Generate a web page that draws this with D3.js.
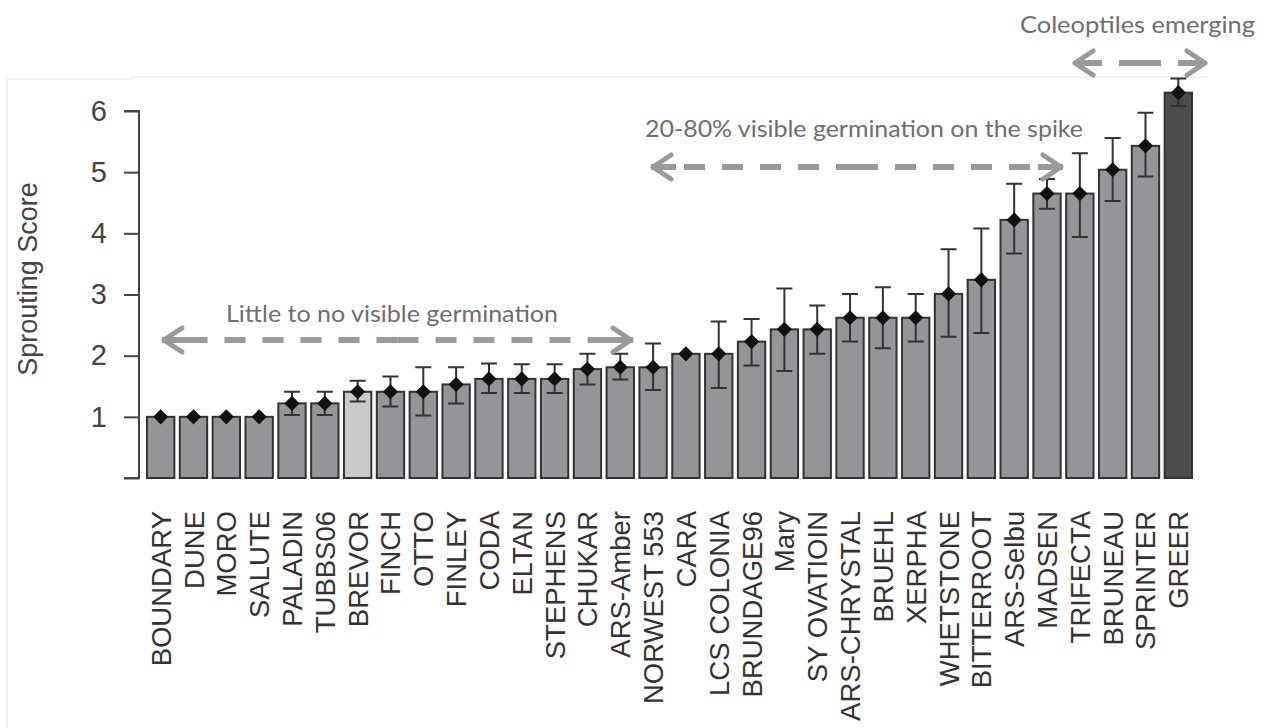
<!DOCTYPE html>
<html>
<head>
<meta charset="utf-8">
<script src="https://cdn.jsdelivr.net/npm/d3@7.9.0/dist/d3.min.js"></script>
<style>
  html, body { margin: 0; padding: 0; background: #fff; }
  svg { display: block; }
</style>
</head>
<body>
<svg id="chart" width="1264" height="728"></svg>
<script>
// cultivars, sorted by mean sprouting score
const cultivars = ['BOUNDARY', 'DUNE', 'MORO', 'SALUTE', 'PALADIN', 'TUBBS06', 'BREVOR', 'FINCH',
  'OTTO', 'FINLEY', 'CODA', 'ELTAN', 'STEPHENS', 'CHUKAR', 'ARS-Amber', 'NORWEST 553', 'CARA',
  'LCS COLONIA', 'BRUNDAGE96', 'Mary', 'SY OVATIOIN', 'ARS-CHRYSTAL', 'BRUEHL', 'XERPHA',
  'WHETSTONE', 'BITTERROOT', 'ARS-Selbu', 'MADSEN', 'TRIFECTA', 'BRUNEAU', 'SPRINTER', 'GREER'];

const meanScore = [1.0, 1.0, 1.0, 1.0, 1.22, 1.22, 1.41, 1.41, 1.41, 1.53, 1.62, 1.62, 1.62, 1.78,
  1.81, 1.81, 2.03, 2.03, 2.23, 2.43, 2.43, 2.62, 2.62, 2.62, 3.01, 3.24, 4.22, 4.65, 4.65, 5.04, 5.43, 6.30];
const upperScore = [1.0, 1.0, 1.0, 1.0, 1.41, 1.41, 1.59, 1.66, 1.81, 1.81, 1.87, 1.86, 1.86, 2.03,
  2.03, 2.20, 2.03, 2.56, 2.60, 3.10, 2.82, 3.01, 3.12, 3.01, 3.74, 4.08, 4.81, 4.89, 5.31, 5.56, 5.97, 6.53];
const lowerScore = [1.0, 1.0, 1.0, 1.0, 1.03, 1.03, 1.25, 1.17, 1.02, 1.22, 1.39, 1.39, 1.39, 1.53,
  1.61, 1.44, 2.03, 1.47, 1.84, 1.75, 2.03, 2.23, 2.12, 2.23, 2.31, 2.37, 3.67, 4.40, 3.94, 4.53, 4.93, 6.08];

const yTicks = [0, 1, 2, 3, 4, 5, 6];

const noteText = ['Little to no visible germination', '20-80% visible germination on the spike', 'Coleoptiles emerging'];

const barFill = name => name === 'BREVOR' ? '#c9cacc' : name === 'GREER' ? '#4b4c4e' : '#939598';

const svg = d3.select('#chart');

const x = d3.scaleBand()
  .domain(cultivars)
  .range([147, 1192])
  .paddingInner(1 / 6)
  .paddingOuter(0);

const y = d3.scaleLinear().domain([0, 6]).range([478, 111]);

// faint frame of the original figure
svg.append('path')
  .attr('d', 'M7,728V79H132V77H1207')
  .attr('fill', 'none')
  .attr('stroke', '#e4e4e4')
  .attr('stroke-width', 1);

// y axis
const yAxis = svg.append('g')
  .attr('transform', 'translate(139,0)')
  .call(d3.axisLeft(y).tickValues(yTicks).tickSize(15).tickPadding(17)
    .tickFormat(d => d === 0 ? '' : d));
yAxis.select('.domain').attr('stroke', '#444').attr('stroke-width', 2)
  .attr('d', `M-15,${y(6)}H0V${y(0)}H-15`);
yAxis.selectAll('.tick line').attr('stroke', '#444').attr('stroke-width', 2);
yAxis.selectAll('.tick text')
  .attr('fill', '#444')
  .style('font-family', '"Liberation Sans", Arial, sans-serif')
  .style('font-size', '29px');

svg.append('text')
  .attr('transform', `translate(37,${(183 + 375) / 2}) rotate(-90)`)
  .attr('text-anchor', 'middle')
  .attr('fill', '#444')
  .style('font-family', '"Liberation Sans", Arial, sans-serif')
  .style('font-size', '27px')
  .text('Sprouting Score');

// bars
const rows = cultivars.map((name, i) => ({
  name, mean: meanScore[i], hi: upperScore[i], lo: lowerScore[i]
}));

svg.append('g').selectAll('rect')
  .data(rows)
  .join('rect')
  .attr('x', d => x(d.name))
  .attr('y', d => y(d.mean))
  .attr('width', x.bandwidth())
  .attr('height', d => y(0) - y(d.mean))
  .attr('fill', d => barFill(d.name))
  .attr('stroke', '#333')
  .attr('stroke-width', 2);

// error bars
const cap = 8;
const err = svg.append('g')
  .attr('stroke', '#333')
  .attr('stroke-width', 2)
  .attr('fill', 'none');
rows.filter(d => d.hi - d.lo > 0.01).forEach(d => {
  const cx = x(d.name) + x.bandwidth() / 2;
  err.append('path')
    .attr('d', `M${cx},${y(d.lo)}V${y(d.hi)}M${cx - cap},${y(d.hi)}H${cx + cap}M${cx - cap},${y(d.lo)}H${cx + cap}`);
});

// mean markers (diamonds)
const diamond = d3.symbol(d3.symbolSquare, 115);
svg.append('g').selectAll('path')
  .data(rows)
  .join('path')
  .attr('d', diamond)
  .attr('transform', d => `translate(${x(d.name) + x.bandwidth() / 2},${y(d.mean)}) rotate(45)`)
  .attr('fill', '#111');

// category labels
svg.append('g').selectAll('text')
  .data(cultivars)
  .join('text')
  .attr('transform', d => `translate(${x(d) + x.bandwidth() / 2 + 10},511) rotate(-90)`)
  .attr('text-anchor', 'end')
  .attr('fill', '#333')
  .style('font-family', '"Liberation Sans", Arial, sans-serif')
  .style('font-size', '27.5px')
  .text(d => d);

// annotations
const noteFont = 'Lato, "Open Sans", sans-serif';
const arrowColor = '#9a9a9a';

const drawArrow = (x0, x1, yy) => {
  const g = svg.append('g')
    .attr('stroke', arrowColor)
    .attr('fill', 'none')
    .attr('stroke-width', 6);
  const mid = (x0 + x1) / 2;
  g.append('line').attr('x1', mid).attr('x2', x0).attr('y1', yy).attr('y2', yy)
    .attr('stroke-dasharray', '21 17');
  g.append('line').attr('x1', mid).attr('x2', x1).attr('y1', yy).attr('y2', yy)
    .attr('stroke-dasharray', '21 17');
  g.append('path').attr('d', `M${x0 + 20},${yy - 12}L${x0 + 2},${yy}L${x0 + 20},${yy + 12}`)
    .attr('stroke-linecap', 'round').attr('stroke-linejoin', 'round').attr('stroke-width', 5);
  g.append('path').attr('d', `M${x1 - 20},${yy - 12}L${x1 - 2},${yy}L${x1 - 20},${yy + 12}`)
    .attr('stroke-linecap', 'round').attr('stroke-linejoin', 'round').attr('stroke-width', 5);
  g.append('line').attr('x1', x0 + 2).attr('x2', x0 + 25).attr('y1', yy).attr('y2', yy);
  g.append('line').attr('x1', x1 - 2).attr('x2', x1 - 25).attr('y1', yy).attr('y2', yy);
};

const note = (txt, x0, x1, baseline) => {
  svg.append('text')
    .attr('x', x0)
    .attr('y', baseline)
    .attr('textLength', x1 - x0)
    .attr('lengthAdjust', 'spacingAndGlyphs')
    .attr('fill', '#6e6e6e')
    .style('font-family', noteFont)
    .style('font-size', '24px')
    .text(txt);
};

drawArrow(162, 633, 340);
note(noteText[0], 226, 558, 322);

drawArrow(651, 1063, 167);
note(noteText[1], 645, 1083, 137);

drawArrow(1073, 1207, 63);
note(noteText[2], 1020, 1255, 33);
</script>
</body>
</html>
